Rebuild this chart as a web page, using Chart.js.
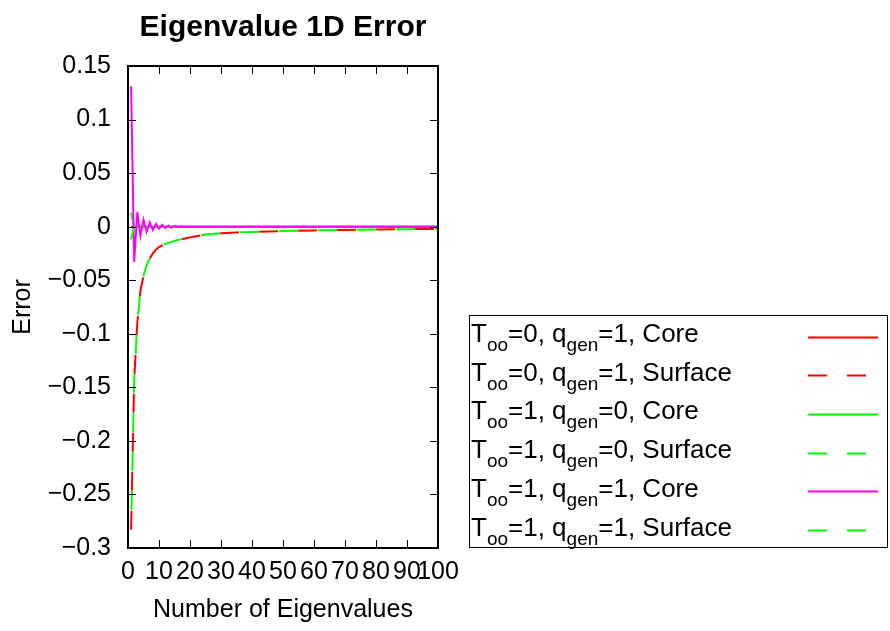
<!DOCTYPE html>
<html>
<head>
<meta charset="utf-8">
<script src="https://cdn.jsdelivr.net/npm/chart.js@4"></script>
<style>
  html, body { margin: 0; padding: 0; background: #fff; }
</style>
</head>
<body>
<canvas id="chart" width="890" height="631"></canvas>
<script>
// data
const xTicks = [0, 10, 20, 30, 40, 50, 60, 70, 80, 90, 100];
const yTicks = [0.15, 0.1, 0.05, 0, -0.05, -0.1, -0.15, -0.2, -0.25, -0.3];

const surfaceN = [1, 2, 3, 4, 5, 6, 7, 8, 9, 10, 12, 14, 16, 18, 20, 25, 30, 35, 40, 50, 60, 70, 80, 90, 100];
const surfaceErr = [-0.283, -0.143, -0.090, -0.060, -0.046, -0.036, -0.030, -0.025, -0.0215, -0.019,
  -0.016, -0.0142, -0.0125, -0.0112, -0.0100, -0.0074, -0.0061, -0.0054, -0.0049, -0.0041,
  -0.0035, -0.0030, -0.0026, -0.0023, -0.0021];

const coreN = [1, 2, 3, 4, 5, 6, 7, 8, 9, 10, 11, 12, 13, 14, 15, 16, 17, 18, 20, 30, 40, 50, 60, 70, 80, 90, 100];
const magentaErr = [0.131, -0.033, 0.0135, -0.0085, 0.0065, -0.0048, 0.004, -0.003, 0.0025, -0.002,
  0.0017, -0.0014, 0.0011, -0.0009, 0.0007, -0.0005, 0.0004, -0.0003, 0, 0, 0, 0, 0, 0, 0, 0, 0];

const redCoreN = [1, 100];
const redCoreErr = [0, 0];
const greenCoreN = [1, 2, 100];
const greenCoreErr = [0.013, 0, 0];
const greenSurf2N = [1, 2];
const greenSurf2Err = [-0.012, 0];

// legend text: T_oo, q_gen, kind
const tooVals = [0, 0, 1, 1, 1, 1];
const qgenVals = [1, 1, 0, 0, 1, 1];
const kinds = ["Core", "Surface", "Core", "Surface", "Core", "Surface"];

const pts = (xs, ys) => xs.map((x, i) => ({ x: x, y: ys[i] }));
const dash = [19, 20];

const datasets = [
  { data: pts(redCoreN, redCoreErr), borderColor: "#ff0000", borderDash: [] },
  { data: pts(surfaceN, surfaceErr), borderColor: "#ff0000", borderDash: dash },
  { data: pts(greenCoreN, greenCoreErr), borderColor: "#00ff00", borderDash: [] },
  { data: pts(surfaceN, surfaceErr), borderColor: "#00ff00", borderDash: dash, borderDashOffset: 19 },
  { data: pts(coreN, magentaErr), borderColor: "#ff00ff", borderDash: [] },
  { data: pts(greenSurf2N, greenSurf2Err), borderColor: "#00ff00", borderDash: dash },
].map((d, i) => Object.assign(d, {
  borderWidth: 2,
  pointRadius: 0,
  tension: 0,
  fill: false,
  order: 6 - i,
}));

const FONT = "'Liberation Sans', Arial, sans-serif";

// frame, inward ticks, title and legend (gnuplot look)
const decor = {
  id: "decor",
  afterDatasetsDraw(chart) {
    const { ctx, chartArea: a, scales } = chart;
    ctx.save();
    ctx.strokeStyle = "#000";
    ctx.lineWidth = 1;
    ctx.beginPath();
    scales.x.ticks.forEach(t => {
      const px = Math.round(scales.x.getPixelForValue(t.value)) + 0.5;
      ctx.moveTo(px, a.bottom); ctx.lineTo(px, a.bottom - 8);
      ctx.moveTo(px, a.top); ctx.lineTo(px, a.top + 8);
    });
    scales.y.ticks.forEach(t => {
      const py = Math.round(scales.y.getPixelForValue(t.value)) + 0.5;
      ctx.moveTo(a.left, py); ctx.lineTo(a.left + 8, py);
      ctx.moveTo(a.right, py); ctx.lineTo(a.right - 8, py);
    });
    ctx.stroke();
    ctx.lineWidth = 2;
    ctx.strokeRect(a.left, a.top, a.right - a.left, a.bottom - a.top);

    // title
    ctx.fillStyle = "#000";
    ctx.font = "bold 30px " + FONT;
    ctx.textAlign = "center";
    ctx.textBaseline = "alphabetic";
    ctx.fillText("Eigenvalue 1D Error", (a.left + a.right) / 2, 36);

    // legend box
    ctx.lineWidth = 1;
    ctx.strokeRect(469.5, 315.5, 418, 232);
    ctx.textAlign = "left";
    chart.data.datasets.forEach((ds, i) => {
      const base = 342 + 38.7 * i;
      const parts = [
        ["T", 0], ["oo", 1], ["=" + tooVals[i] + ", q", 0], ["gen", 1],
        ["=" + qgenVals[i] + ", " + kinds[i], 0],
      ];
      let x = 471;
      parts.forEach(([s, sub]) => {
        ctx.font = (sub ? "19px " : "26px ") + FONT;
        ctx.fillText(s, x, base + (sub ? 9 : 0));
        x += ctx.measureText(s).width;
      });
      const ly = Math.round(base - 5.5) + 0.5;
      ctx.strokeStyle = ds.borderColor;
      ctx.lineWidth = 2;
      ctx.setLineDash(ds.borderDash || []);
      ctx.lineDashOffset = 0;
      ctx.beginPath();
      ctx.moveTo(808, ly);
      ctx.lineTo(878, ly);
      ctx.stroke();
      ctx.setLineDash([]);
    });
    ctx.restore();
  }
};

const fmt = v => {
  const s = String(parseFloat(v.toFixed(2)));
  return s.replace("-", "\u2212");
};

new Chart(document.getElementById("chart").getContext("2d"), {
  type: "line",
  data: { datasets: datasets },
  options: {
    responsive: false,
    animation: false,
    devicePixelRatio: 1,
    layout: { padding: { left: 0, top: 66, right: 452, bottom: 0 } },
    scales: {
      x: {
        type: "linear",
        min: 0,
        max: 100,
        afterFit(scale) { scale.height = 83; },
        afterBuildTicks(scale) { scale.ticks = xTicks.map(v => ({ value: v })); },
        grid: { display: false, drawTicks: false },
        border: { display: false },
        ticks: {
          color: "#000",
          padding: 9,
          maxRotation: 0,
          autoSkip: false,
          font: { family: FONT, size: 25 },
          callback: v => String(v),
        },
        title: {
          display: true,
          text: "Number of Eigenvalues",
          color: "#000",
          font: { family: FONT, size: 25 },
          padding: { top: 0, bottom: 6 },
        },
      },
      y: {
        min: -0.3,
        max: 0.15,
        afterFit(scale) { scale.width = 128; },
        afterBuildTicks(scale) { scale.ticks = yTicks.map(v => ({ value: v })); },
        grid: { display: false, drawTicks: false },
        border: { display: false },
        ticks: {
          color: "#000",
          padding: 17,
          autoSkip: false,
          font: { family: FONT, size: 25 },
          callback: v => fmt(v),
        },
        title: {
          display: true,
          text: "Error",
          color: "#000",
          font: { family: FONT, size: 25 },
          padding: { top: 8, bottom: 0 },
        },
      },
    },
    plugins: {
      legend: { display: false },
      title: { display: false },
      tooltip: { enabled: false },
    },
  },
  plugins: [decor],
});
</script>
</body>
</html>
